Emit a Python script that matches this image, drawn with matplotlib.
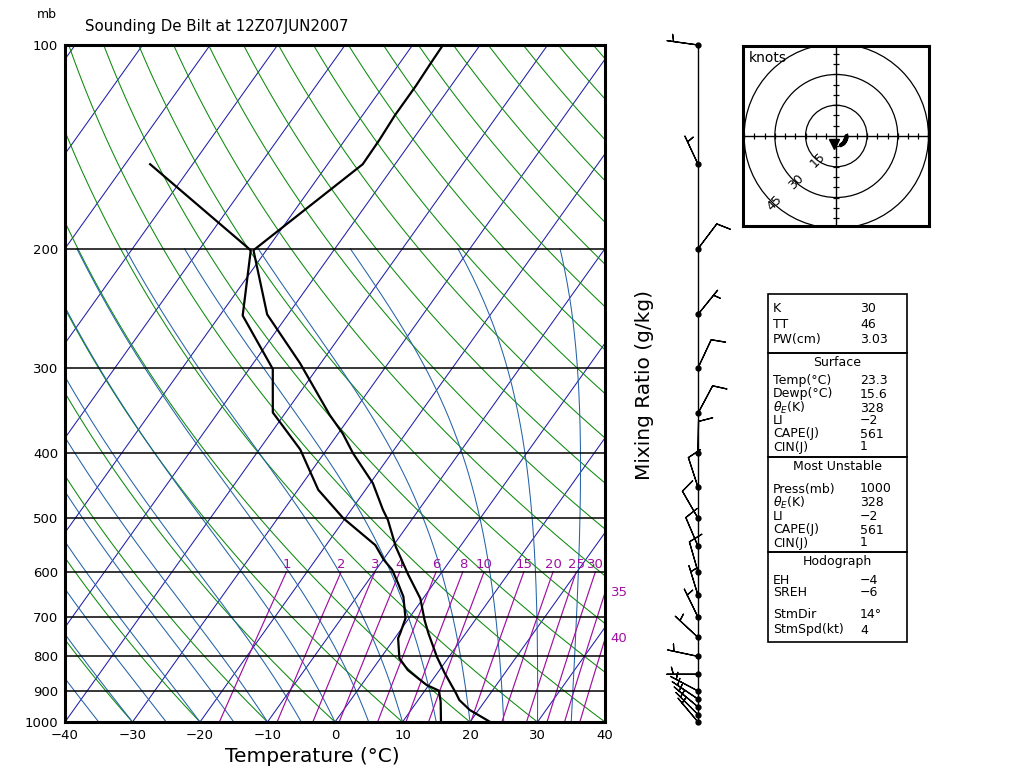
import numpy as np
import matplotlib
matplotlib.use('Agg')
import matplotlib.pyplot as plt
import matplotlib.ticker as mticker
from matplotlib.patches import Circle, Rectangle

# ---------------- data ----------------
temp_p = [1000, 960, 928, 907, 847, 801, 740, 707, 657, 606, 551, 503, 486, 444,
          401, 375, 352, 295, 250, 201, 150, 138, 127, 115, 106, 100]
temp_c = [23.0, 18.7, 16.1, 14.9, 11.1, 8.2, 4.5, 2.5, -0.4, -4.7, -9.5, -13.5, -15.3, -19.6,
          -25.7, -29.3, -33.2, -43.1, -53.1, -61.9, -54.8, -54.9, -55.2, -55.2, -55.4, -55.5]
dewp_p = [1000, 933, 899, 882, 867, 838, 805, 752, 740, 703, 653, 624, 596, 576,
          548, 500, 454, 396, 349, 301, 251, 201, 150]
dewp_c = [15.7, 13.5, 12.1, 9.7, 8.2, 5.3, 2.8, 0.5, 0.3, -0.5, -3.1, -5.3, -7.6, -9.9,
          -12.7, -20.3, -27.0, -33.9, -41.9, -46.5, -56.6, -62.3, -86.3]

wind_p = [100, 150, 200, 250, 300, 350, 400, 450, 500, 550, 600, 650, 700, 750, 800,
          850, 900, 925, 950, 975, 1000]
wind_dir = [278, 335, 37, 39, 25, 28, 1, 342, 330, 337, 344, 343, 334, 313, 282,
            270, 298, 304, 310, 315, 320]
wind_spd = [5, 5, 10, 5, 10, 10, 10, 10, 10, 10, 10, 5, 5, 5, 5,
            5, 5, 5, 5, 5, 5]
hodo_top_p = 700
storm_dir, storm_spd = 14, 4
hodo_rings = [15, 30, 45]

isobars = [100, 200, 300, 400, 500, 600, 700, 800, 900, 1000]
temp_ticks = [-40, -30, -20, -10, 0, 10, 20, 30, 40]
isotherms = list(range(-110, 41, 10))
dry_theta_c = list(range(-40, 201, 10))
moist_thetaw = list(range(-40, 36, 5))
mix_ratios = [1, 2, 3, 4, 6, 8, 10, 15, 20, 25, 30, 35, 40]

title = 'Sounding De Bilt at 12Z07JUN2007'
idx_labels = ['K', 'TT', 'PW(cm)']
idx_values = ['30', '46', '3.03']
sfc_labels = ['Temp(°C)', 'Dewp(°C)', r'$\theta_E$(K)', 'LI', 'CAPE(J)', 'CIN(J)']
sfc_values = ['23.3', '15.6', '328', '\u22122', '561', '1']
mu_labels = ['Press(mb)', r'$\theta_E$(K)', 'LI', 'CAPE(J)', 'CIN(J)']
mu_values = ['1000', '328', '\u22122', '561', '1']
hd_labels = ['EH', 'SREH', 'StmDir', 'StmSpd(kt)']
hd_values = ['\u22124', '\u22126', '14°', '4']

# ---------------- helpers ----------------
SKEW = 71.5  # deg C shift per decade of pressure


def skewx(t, p):
    return np.asarray(t, float) + SKEW * np.log10(1000.0 / np.asarray(p, float))


def td_from_w(w, p):
    e = w * p / (622.0 + w)
    lg = np.log(e / 6.112)
    return 243.5 * lg / (17.67 - lg)


def dtdp(T, p):
    tc = T - 273.15
    es = 6.112 * np.exp(17.67 * tc / (tc + 243.5))
    rs = 0.622 * es / (p - es)
    num = (287.04 * T + 2.501e6 * rs) / p
    den = 1005.7 + (2.501e6 ** 2 * rs * 0.622) / (287.04 * T * T)
    return num / den


def moist_line(t0, p):
    T = t0 + 273.15
    out = [T]
    for i in range(1, len(p)):
        dp = p[i] - p[i - 1]
        k1 = dtdp(T, p[i - 1])
        k2 = dtdp(T + k1 * dp / 2, p[i - 1] + dp / 2)
        T = T + k2 * dp
        out.append(T)
    return np.array(out) - 273.15


# ---------------- figure ----------------
W, H = 1024, 768
fig = plt.figure(figsize=(W / 100, H / 100), dpi=100)
plt.rcParams['font.family'] = ['DejaVu Sans']

C_ISO = '#1f1fa8'
C_DRY = '#0c8a0c'
C_MST = '#2463a8'
C_MIX = '#a010a0'

ax = fig.add_axes([65 / W, 1 - 722 / H, 540 / W, 677 / H])
ax.set_yscale('log')
ax.set_ylim(1000, 100)
ax.set_xlim(-40, 40)

pfull = np.geomspace(1000, 100, 120)
for t in isotherms:
    ax.plot(skewx([t, t], [1000, 100]), [1000, 100], color=C_ISO, lw=0.75, zorder=1)
for th in dry_theta_c:
    tt = (th + 273.15) * (pfull / 1000.0) ** 0.2857 - 273.15
    ax.plot(skewx(tt, pfull), pfull, color=C_DRY, lw=0.75, zorder=1)
pm = np.linspace(1000, 200, 161)
for tw in moist_thetaw:
    tt = moist_line(tw, pm)
    ax.plot(skewx(tt, pm), pm, color=C_MST, lw=0.75, zorder=1)
pw = np.geomspace(1000, 600, 40)
for w in mix_ratios:
    td = td_from_w(w, pw)
    xs = skewx(td, pw)
    ax.plot(xs, pw, color=C_MIX, lw=0.85, zorder=2)
    xtop = float(skewx(td_from_w(w, 600.0), 600.0))
    if xtop <= 40.5:
        ax.text(xtop, 586, str(w), color=C_MIX, ha='center', va='center',
                fontsize=9.5, zorder=5)
    else:
        pc = float(np.interp(40.0, xs, pw))
        ax.annotate(str(w), xy=(40, pc), xytext=(4, 0), textcoords='offset points',
                    color=C_MIX, ha='left', va='center', fontsize=9.5,
                    annotation_clip=False)

for p in isobars:
    ax.axhline(p, color='black', lw=1.1, zorder=3)

ax.plot(skewx(temp_c, temp_p), temp_p, color='black', lw=1.6, zorder=6)
ax.plot(skewx(dewp_c, dewp_p), dewp_p, color='black', lw=1.6, zorder=6)

ax.yaxis.set_major_locator(mticker.FixedLocator(isobars))
ax.yaxis.set_minor_locator(mticker.NullLocator())
ax.set_yticklabels([str(p) for p in isobars])
ax.set_xticks(temp_ticks)
ax.set_xticklabels([str(t).replace('-', '\u2212') for t in temp_ticks])
ax.tick_params(length=0, labelsize=9.5, pad=5)
ax.set_xlabel('Temperature (°C)', fontsize=14.5)
ax.xaxis.set_label_coords((312 - 65) / 540, -(757 - 722) / 677)
ax.xaxis.label.set_va('center')
for s in ax.spines.values():
    s.set_linewidth(2.2)
    s.set_zorder(7)

fig.text(47 / W, 1 - 15 / H, 'mb', fontsize=9, ha='center', va='center')
fig.text(85 / W, 1 - 27 / H, title, fontsize=10.8, ha='left', va='center')
fig.text(645 / W, 1 - 385 / H, 'Mixing Ratio (g/kg)', fontsize=14.5, rotation=90,
         ha='center', va='center')

# ---------------- wind barbs ----------------
bax = fig.add_axes([658 / W, 1 - 722 / H, 80 / W, 677 / H])
bax.set_yscale('log')
bax.set_ylim(1000, 100)
bax.set_xlim(-40, 40)
bax.axis('off')
wd = np.radians(wind_dir)
ws = np.array(wind_spd, float)
u = -ws * np.sin(wd)
v = -ws * np.cos(wd)
zx = np.zeros(len(wind_p))
bax.plot(zx, wind_p, color='black', lw=1.0, clip_on=False)
bax.plot(zx, wind_p, 'o', color='black', ms=3.5, clip_on=False)
bax.barbs(zx, wind_p, u, v, length=6.7, pivot='tip', lw=0.9, color='black',
          sizes=dict(height=0.45, spacing=0.14, width=0.25), clip_on=False)

# ---------------- hodograph ----------------
hax = fig.add_axes([743.3 / W, 1 - 226 / H, 186 / W, 180 / H])
hax.set_xlim(-45.4, 45.4)
hax.set_ylim(-43.9, 43.9)
hax.set_xticks([])
hax.set_yticks([])
for s in hax.spines.values():
    s.set_linewidth(2.2)
for r in hodo_rings:
    hax.add_patch(Circle((0, 0), r, fill=False, lw=0.9, color='black'))
    hax.text(-r * np.cos(np.pi / 4) + 1.5, -r * np.sin(np.pi / 4) - 1.0, str(r),
             rotation=45, ha='center', va='center', fontsize=9)
hax.axhline(0, color='black', lw=1)
hax.axvline(0, color='black', lw=1)
tk = np.array([k for k in range(-45, 46, 5) if k != 0], float)
hax.plot(tk, np.zeros_like(tk), '|', color='black', ms=5, mew=0.9)
hax.plot(np.zeros_like(tk), tk, '_', color='black', ms=5, mew=0.9)
sel = np.array(wind_p) >= hodo_top_p
hax.plot(u[sel], v[sel], color='black', lw=3, solid_capstyle='round')
su = -storm_spd * np.sin(np.radians(storm_dir))
sv = -storm_spd * np.cos(np.radians(storm_dir))
hax.plot([su], [sv], marker='v', ms=7, color='black')
hax.text(0.03, 0.975, 'knots', transform=hax.transAxes, ha='left', va='top', fontsize=10)

# ---------------- index table ----------------
x0, x1 = 768, 907
boxes = [(294, 352.7), (352.7, 456.7), (456.7, 552.3), (552.3, 642.3)]
for (ya, yb) in boxes:
    fig.add_artist(Rectangle((x0 / W, 1 - yb / H), (x1 - x0) / W, (yb - ya) / H,
                             transform=fig.transFigure, fill=False, lw=1.2, color='black'))

FS = 9.0
lx, vx = 773 / W, 860 / W


def rows(labels, values, ys):
    for lab, val, yy in zip(labels, values, ys):
        fig.text(lx, 1 - yy / H, lab, fontsize=FS, ha='left', va='center')
        fig.text(vx, 1 - yy / H, val, fontsize=FS, ha='left', va='center')


def header(txt, yy):
    fig.text((x0 + x1) / 2 / W, 1 - yy / H, txt, fontsize=FS, ha='center', va='center')


rows(idx_labels, idx_values, [309, 325, 340])
header('Surface', 362)
rows(sfc_labels, sfc_values, [380, 394, 408, 421, 434, 447])
header('Most Unstable', 467)
rows(mu_labels, mu_values, [489, 503, 517, 530, 543])
header('Hodograph', 562)
rows(hd_labels, hd_values, [580, 593, 615, 630])

fig.savefig('out.png', dpi=100)
